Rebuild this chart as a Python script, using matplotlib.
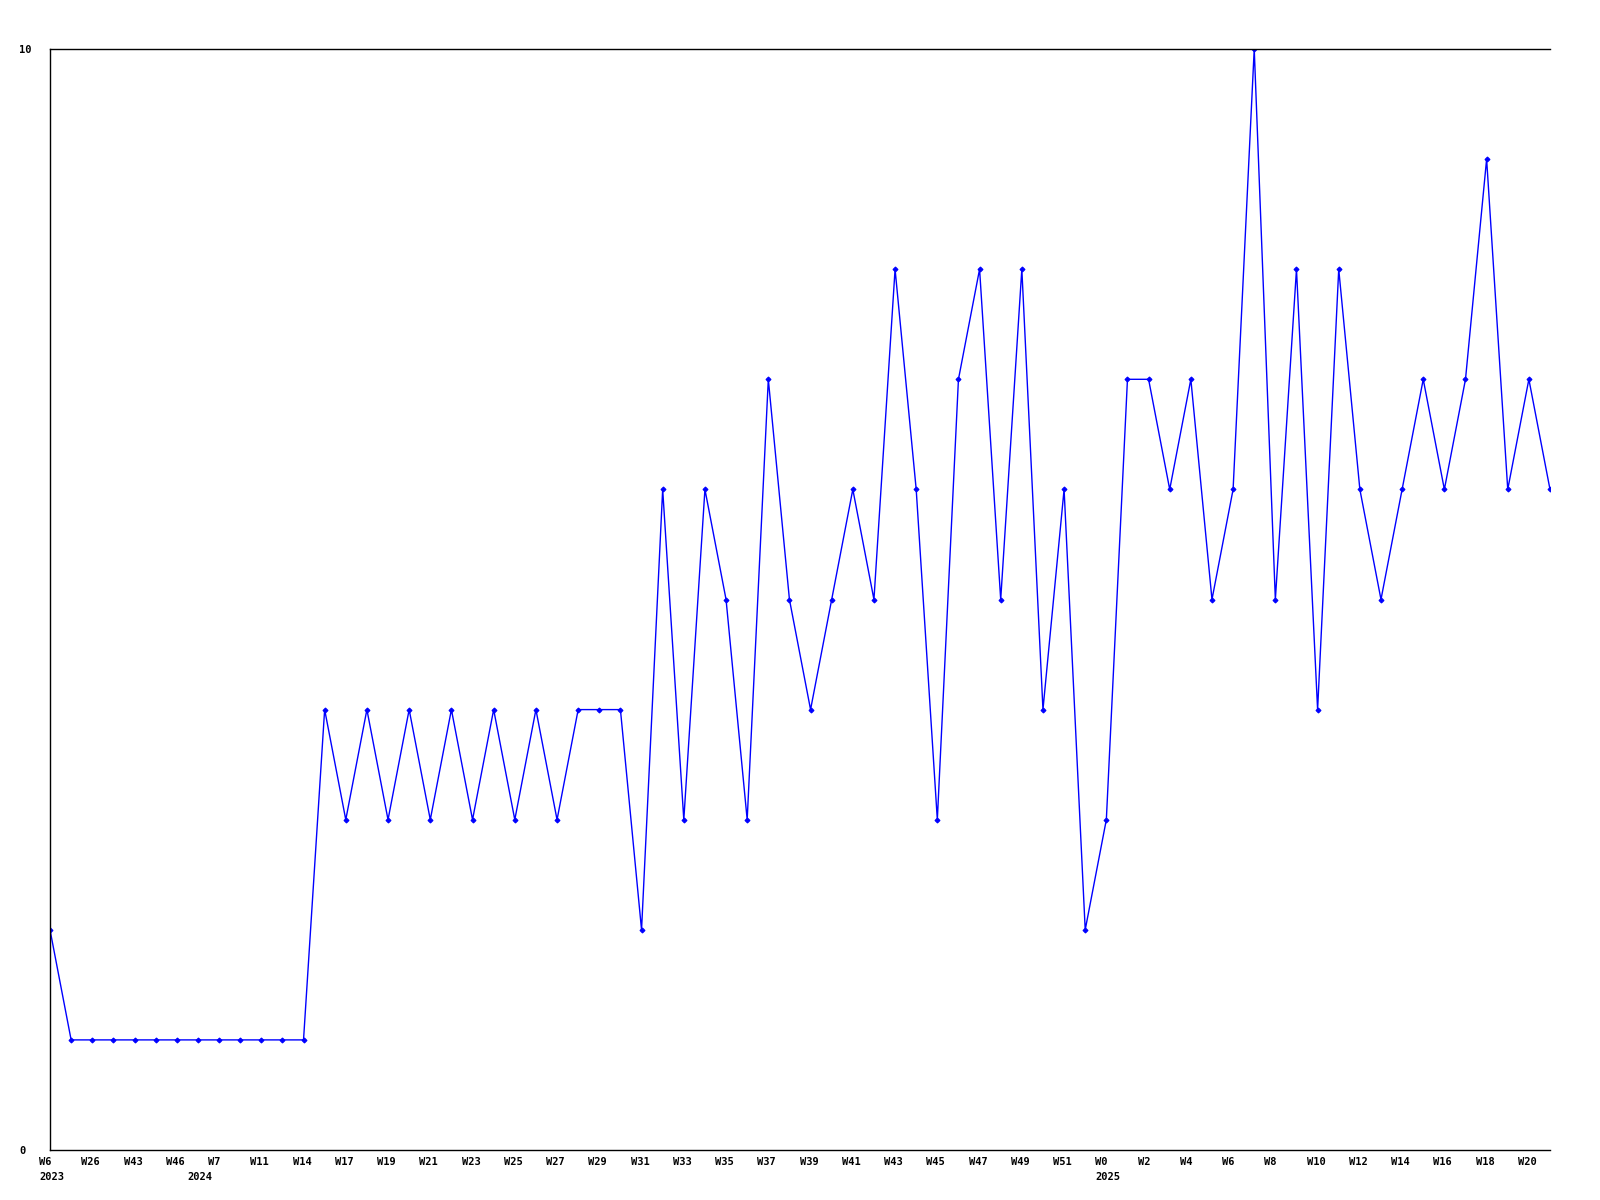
import numpy as np
import matplotlib
matplotlib.use("Agg")
import matplotlib.pyplot as plt
import matplotlib.transforms as mtransforms

# weekly counts, one per point
values = [2, 1, 1, 1, 1, 1, 1, 1, 1, 1, 1, 1, 1,
          4, 3, 4, 3, 4, 3, 4, 3, 4, 3, 4, 3, 4, 4, 4,
          2, 6, 3, 6, 5, 3, 7, 5, 4, 5, 6, 5, 8, 6, 3, 7, 8, 5, 8, 4, 6, 2,
          3, 7, 7, 6, 7, 5, 6, 10, 5, 8, 4, 8, 6, 5, 6, 7, 6, 7, 9, 6, 7, 6]

# week labels shown on every other point
week_labels = ["W6", "W26", "W43", "W46", "W7", "W11", "W14",
               "W17", "W19", "W21", "W23", "W25", "W27", "W29", "W31", "W33",
               "W35", "W37", "W39", "W41", "W43", "W45", "W47", "W49", "W51",
               "W0", "W2", "W4", "W6", "W8", "W10", "W12", "W14", "W16",
               "W18", "W20"]
# year markers at the first point of each year
year_pos = [0, 7, 50]
year_labels = ["2023", "2024", "2025"]

x = np.arange(len(values))

fig = plt.figure(figsize=(16, 12), dpi=100)
ax = fig.add_axes([50/1600, 50/1200, 1500/1600, 1101/1200])

ax.plot(x, values, color="#0000ff", linewidth=1.0, marker="D", markersize=2.5,
        markeredgewidth=0.8)

ax.set_xlim(0, len(values) - 1)
ax.set_ylim(0, 10)

ax.spines["right"].set_visible(False)
for s in ["left", "top", "bottom"]:
    ax.spines[s].set_linewidth(1.0)
    ax.spines[s].set_color("black")

font = dict(family="DejaVu Sans Mono", size=7.5, weight="bold")
offset = mtransforms.ScaledTranslation(-11/100, 0, fig.dpi_scale_trans)

ax.set_yticks([0, 10])
ax.set_yticklabels(["0", "10"], ha="left", **font)
ax.tick_params(axis="y", length=0, pad=22)

ax.set_xticks(x[::2])
ax.set_xticklabels(week_labels, ha="left", va="top", **font)
ax.tick_params(axis="x", length=0, pad=5)
for lab in ax.get_xticklabels():
    lab.set_transform(lab.get_transform() + offset)

# second row with the years
sec = ax.secondary_xaxis("bottom")
sec.spines["bottom"].set_visible(False)
sec.set_xticks(year_pos)
sec.set_xticklabels(year_labels, ha="left", va="top", **font)
sec.tick_params(axis="x", length=0, pad=16)
for lab in sec.get_xticklabels():
    lab.set_transform(lab.get_transform() + offset)

fig.savefig("out.png", dpi=100)
